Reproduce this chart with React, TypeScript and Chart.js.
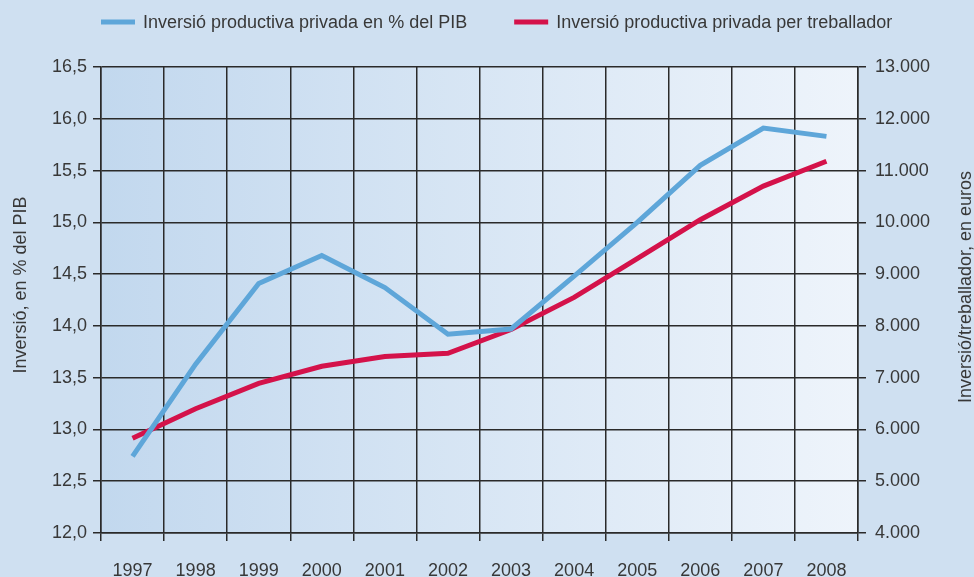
import React, { useEffect, useRef } from "react";
import { Chart, registerables } from "chart.js";

Chart.register(...registerables);

// ---- data ----
const years = ["1997", "1998", "1999", "2000", "2001", "2002", "2003", "2004", "2005", "2006", "2007", "2008"];
const pibShare = [12.74, 13.63, 14.41, 14.68, 14.37, 13.92, 13.97, 14.48, 15.0, 15.55, 15.91, 15.83];
const perWorker = [5830, 6400, 6890, 7220, 7410, 7470, 7930, 8550, 9300, 10050, 10700, 11180];
const seriesLabels = ["Inversió productiva privada en % del PIB", "Inversió productiva privada per treballador"];
const leftTitle = "Inversió, en % del PIB";
const rightTitle = "Inversió/treballador, en euros";
const leftRange = [12, 16.5, 0.5];
const rightRange = [4000, 13000, 1000];

const FONT = "'Liberation Sans', Arial, Helvetica, sans-serif";
const TEXT = "#383838";
const GRID = "#2a2a2a";
const BLUE = "#5ea6d9";
const RED = "#d4124a";
const PAGE_BG = "#cfe0f1";

const bgPlugin = {
  id: "bgPlugin",
  beforeDraw(chart: any) {
    const { ctx, chartArea, width, height } = chart;
    const { left, top, right, bottom } = chartArea;
    ctx.save();
    ctx.fillStyle = PAGE_BG;
    ctx.fillRect(0, 0, width, height);
    const g = ctx.createLinearGradient(left, 0, right, 0);
    g.addColorStop(0, "#c2d8ee");
    g.addColorStop(1, "#eef4fb");
    ctx.fillStyle = g;
    ctx.fillRect(left, top, right - left, bottom - top);
    ctx.restore();
  },
};

const decorPlugin = {
  id: "decorPlugin",
  afterDraw(chart: any) {
    const { ctx, chartArea } = chart;
    ctx.save();
    ctx.font = `18px ${FONT}`;
    ctx.fillStyle = TEXT;
    ctx.textBaseline = "middle";
    // legend
    const ds = chart.data.datasets;
    let x = chartArea.left;
    const y = 22;
    ds.forEach((d: any) => {
      ctx.fillStyle = d.borderColor;
      ctx.fillRect(x, y - 2.5, 34, 5);
      ctx.fillStyle = TEXT;
      ctx.textAlign = "left";
      ctx.fillText(d.label, x + 42, y + 1);
      x += 42 + ctx.measureText(d.label).width + 47;
    });
    // axis titles
    ctx.textAlign = "center";
    ctx.save();
    ctx.translate(21, 285);
    ctx.rotate(-Math.PI / 2);
    ctx.fillText(leftTitle, 0, 0);
    ctx.restore();
    ctx.save();
    ctx.translate(966, 287);
    ctx.rotate(-Math.PI / 2);
    ctx.fillText(rightTitle, 0, 0);
    ctx.restore();
    ctx.restore();
  },
};

export default function App() {
  const ref = useRef<HTMLCanvasElement | null>(null);
  useEffect(() => {
    if (!ref.current) return;
    const chart = new Chart(ref.current, {
      type: "line",
      data: {
        labels: years,
        datasets: [
          {
            label: seriesLabels[0],
            data: pibShare,
            borderColor: BLUE,
            backgroundColor: BLUE,
            borderWidth: 5,
            pointRadius: 0,
            tension: 0,
            yAxisID: "y",
          },
          {
            label: seriesLabels[1],
            data: perWorker,
            borderColor: RED,
            backgroundColor: RED,
            borderWidth: 5,
            pointRadius: 0,
            tension: 0,
            yAxisID: "y1",
          },
        ],
      },
      options: {
        responsive: false,
        animation: false,
        layout: { padding: { top: 67, left: 0, right: 0, bottom: 0 } },
        plugins: { legend: { display: false }, tooltip: { enabled: false } },
        scales: {
          x: {
            offset: true,
            grid: { offset: true, color: GRID, lineWidth: 1.5, tickLength: 8, tickColor: GRID },
            border: { color: GRID, width: 1.5 },
            ticks: { color: TEXT, font: { family: FONT, size: 18 }, padding: 19, maxRotation: 0, autoSkip: false },
            afterFit: (s: any) => {
              s.height = 44;
            },
          },
          y: {
            position: "left",
            min: leftRange[0],
            max: leftRange[1],
            grid: { color: GRID, lineWidth: 1.5, tickLength: 8, tickColor: GRID },
            border: { color: GRID, width: 1.5 },
            ticks: {
              stepSize: leftRange[2],
              color: TEXT,
              padding: 6,
              font: { family: FONT, size: 18 },
              callback: (v: any) => Number(v).toFixed(1).replace(".", ","),
            },
            afterFit: (s: any) => {
              s.width = 101;
            },
          },
          y1: {
            position: "right",
            min: rightRange[0],
            max: rightRange[1],
            grid: { drawOnChartArea: false, color: GRID, lineWidth: 1.5, tickLength: 8, tickColor: GRID },
            border: { color: GRID, width: 1.5 },
            ticks: {
              stepSize: rightRange[2],
              color: TEXT,
              padding: 9,
              font: { family: FONT, size: 18 },
              callback: (v: any) => Number(v).toLocaleString("en-US").replace(/,/g, "."),
            },
            afterFit: (s: any) => {
              s.width = 116;
            },
          },
        },
      },
      plugins: [bgPlugin, decorPlugin],
    });
    return () => chart.destroy();
  }, []);
  return (
    <div style={{ position: "fixed", left: 0, top: 0, width: 974, height: 577, background: PAGE_BG }}>
      <canvas ref={ref} width={974} height={577} />
    </div>
  );
}
